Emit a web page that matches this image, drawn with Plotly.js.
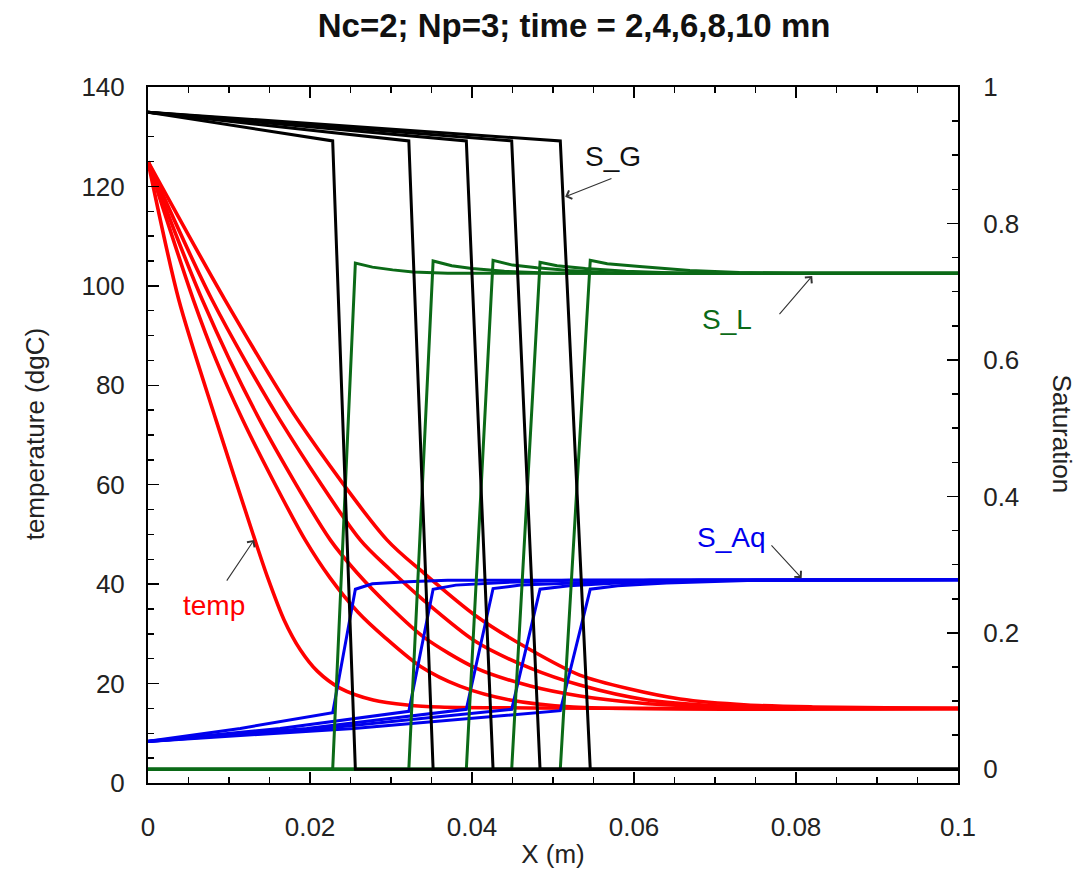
<!DOCTYPE html>
<html>
<head>
<meta charset="utf-8">
<script src="https://cdn.plot.ly/plotly-3.0.1.min.js"></script>
<style>
  html, body { margin: 0; padding: 0; background: #ffffff; }
  #chart { width: 1079px; height: 880px; }
</style>
</head>
<body>
<div id="chart"></div>
<script>
// Profiles along the column at t = 2, 4, 6, 8, 10 min
const times = [2, 4, 6, 8, 10];

// Temperature profiles (dgC)
const tempX = [
  [0, 0.0038, 0.0084, 0.0132, 0.0148, 0.0168, 0.0188, 0.0209, 0.0237, 0.0278, 0.0320, 0.0360, 0.1],
  [0, 0.0056, 0.0084, 0.0117, 0.0154, 0.0194, 0.0225, 0.0259, 0.0293, 0.0336, 0.0385, 0.0447, 0.0525, 0.1],
  [0, 0.0067, 0.0138, 0.0225, 0.0258, 0.0299, 0.0340, 0.0405, 0.0472, 0.0533, 0.0607, 0.0706, 0.1],
  [0, 0.0079, 0.0163, 0.0262, 0.0299, 0.0340, 0.0405, 0.0472, 0.0533, 0.0616, 0.0706, 0.0805, 0.1],
  [0, 0.0095, 0.0185, 0.0295, 0.0340, 0.0405, 0.0472, 0.0533, 0.0595, 0.0657, 0.0740, 0.0821, 0.1]
];
const tempT = [
  [125, 97.2, 73.0, 48.9, 41.2, 32.8, 26.8, 22.5, 19.1, 16.7, 15.7, 15.3, 15],
  [125, 97.2, 85.1, 73.0, 61.0, 48.9, 41.2, 34.4, 29.2, 23.5, 19.5, 16.7, 15.3, 15],
  [125, 97.2, 73.0, 48.9, 42.3, 35.4, 29.4, 23.1, 19.5, 17.5, 16.1, 15.3, 15],
  [125, 97.2, 73.0, 48.9, 42.9, 36.8, 28.4, 23.1, 19.7, 16.7, 15.5, 15.1, 15],
  [125, 97.2, 73.0, 48.9, 42.3, 33.6, 26.8, 21.7, 18.9, 16.9, 15.7, 15.3, 15]
];

// Gas saturation S_G
const gasX = [
  [0, 0.0228, 0.0256, 0.1],
  [0, 0.0322, 0.0352, 0.1],
  [0, 0.0393, 0.0426, 0.1],
  [0, 0.0449, 0.0484, 0.1],
  [0, 0.0509, 0.0546, 0.1]
];
const gasS = [
  [0.963, 0.921, 0, 0],
  [0.963, 0.921, 0, 0],
  [0.963, 0.921, 0, 0],
  [0.963, 0.921, 0, 0],
  [0.963, 0.921, 0, 0]
];

// Liquid (oil) saturation S_L
const liqX = [
  [0, 0.0228, 0.0256, 0.0277, 0.0302, 0.0327, 0.0370, 0.1],
  [0, 0.0322, 0.0352, 0.0375, 0.0400, 0.0440, 0.0500, 0.1],
  [0, 0.0393, 0.0426, 0.0450, 0.0480, 0.0520, 0.0580, 0.1],
  [0, 0.0449, 0.0484, 0.0505, 0.0540, 0.0590, 0.0660, 0.1],
  [0, 0.0509, 0.0546, 0.0567, 0.0607, 0.0669, 0.0730, 0.0800, 0.1]
];
const liqS = [
  [0, 0, 0.742, 0.736, 0.732, 0.729, 0.727, 0.727],
  [0, 0, 0.745, 0.738, 0.734, 0.730, 0.727, 0.727],
  [0, 0, 0.746, 0.739, 0.735, 0.731, 0.727, 0.727],
  [0, 0, 0.743, 0.738, 0.734, 0.730, 0.727, 0.727],
  [0, 0, 0.746, 0.741, 0.737, 0.731, 0.728, 0.727, 0.727]
];

// Aqueous saturation S_Aq
const aqX = [
  [0, 0.0114, 0.0228, 0.0256, 0.0277, 0.0320, 0.0370, 0.1],
  [0, 0.0163, 0.0322, 0.0352, 0.0380, 0.0440, 0.0520, 0.1],
  [0, 0.0196, 0.0393, 0.0426, 0.0460, 0.0520, 0.0620, 0.1],
  [0, 0.0225, 0.0449, 0.0484, 0.0520, 0.0580, 0.0680, 0.1],
  [0, 0.0254, 0.0509, 0.0546, 0.0580, 0.0640, 0.0750, 0.1]
];
const aqS = [
  [0.041, 0.060, 0.083, 0.264, 0.272, 0.275, 0.277, 0.278],
  [0.041, 0.060, 0.085, 0.264, 0.270, 0.274, 0.277, 0.278],
  [0.041, 0.060, 0.088, 0.265, 0.270, 0.273, 0.277, 0.278],
  [0.041, 0.061, 0.088, 0.264, 0.269, 0.273, 0.277, 0.278],
  [0.041, 0.060, 0.086, 0.264, 0.269, 0.273, 0.277, 0.278]
];

const FONT = 'Liberation Sans, Arial, Helvetica, sans-serif';
const RED = '#ff0000', BLUE = '#0000ee', GREEN = '#0b6a17', BLACK = '#000000';

const traces = [];
times.forEach((t, i) => {
  traces.push({ x: tempX[i], y: tempT[i], yaxis: 'y', mode: 'lines', name: 'temp ' + t,
    line: { color: RED, width: 3.6, shape: 'spline', smoothing: 0.8 } });
});
times.forEach((t, i) => {
  traces.push({ x: aqX[i], y: aqS[i], yaxis: 'y2', mode: 'lines', name: 'S_Aq ' + t,
    line: { color: BLUE, width: 3 } });
});
times.forEach((t, i) => {
  traces.push({ x: liqX[i], y: liqS[i], yaxis: 'y2', mode: 'lines', name: 'S_L ' + t,
    line: { color: GREEN, width: 3 } });
});
times.forEach((t, i) => {
  traces.push({ x: gasX[i], y: gasS[i], yaxis: 'y2', mode: 'lines', name: 'S_G ' + t,
    line: { color: BLACK, width: 3 } });
});

const tickFont = { family: FONT, size: 26, color: '#222' };
const axisCommon = {
  showgrid: false, zeroline: false, showline: true, linecolor: '#000', linewidth: 2,
  ticks: 'inside', ticklen: 11, tickwidth: 1.5, tickcolor: '#000',
  tickfont: tickFont
};

// Label + arrow pairs
function label(x, y, text, color) {
  return { x: x, y: y, xref: 'x', yref: 'y', text: text, showarrow: false,
    font: { family: FONT, size: 28, color: color } };
}
function arrow(hx, hy, tx, ty) {
  return { x: hx, y: hy, xref: 'x', yref: 'y', ax: tx, ay: ty, axref: 'x', ayref: 'y',
    text: '', showarrow: true, arrowhead: 4, arrowsize: 1.6, arrowwidth: 1.1, arrowcolor: '#333' };
}
function vtitle(x, text, angle) {
  return { xref: 'paper', yref: 'paper', x: x, y: 0.501, text: text, textangle: angle,
    showarrow: false, xanchor: 'center', yanchor: 'middle',
    font: { family: FONT, size: 26, color: '#222' } };
}

const layout = {
  width: 1079, height: 880,
  paper_bgcolor: '#ffffff', plot_bgcolor: '#ffffff',
  margin: { l: 148, r: 121, t: 87, b: 97 },
  showlegend: false,
  hovermode: false,
  title: { text: '<b>Nc=2; Np=3; time = 2,4,6,8,10 mn</b>',
    xref: 'paper', x: 0.526, xanchor: 'center',
    yref: 'container', y: 0.971, yanchor: 'middle',
    font: { family: FONT, size: 33, color: '#111' } },
  xaxis: Object.assign({}, axisCommon, {
    range: [0, 0.1], dtick: 0.02, tick0: 0, mirror: 'ticks',
    minor: { dtick: 0.005, ticks: 'inside', ticklen: 6, tickwidth: 1.5, tickcolor: '#000' },
    ticklabelstandoff: 20,
    title: { text: 'X (m)', font: { family: FONT, size: 26, color: '#222' }, standoff: 4 }
  }),
  yaxis: Object.assign({}, axisCommon, {
    range: [0, 140], dtick: 20, tick0: 0,
    minor: { dtick: 5, ticks: 'inside', ticklen: 6, tickwidth: 1.5, tickcolor: '#000' },
    ticklabelstandoff: 16
  }),
  yaxis2: Object.assign({}, axisCommon, {
    overlaying: 'y', side: 'right',
    range: [-0.02, 1.0], dtick: 0.2, tick0: 0,
    minor: { dtick: 0.05, ticks: 'inside', ticklen: 6, tickwidth: 1.5, tickcolor: '#000' },
    ticklabelstandoff: 18
  }),
  annotations: [
    label(0.0574, 126.0, 'S_G', '#111'),
    arrow(0.0515, 117.9, 0.0574, 121.7),
    label(0.0715, 93.2, 'S_L', GREEN),
    arrow(0.0820, 102.0, 0.0778, 94.0),
    label(0.0720, 49.3, 'S_Aq', BLUE),
    arrow(0.0807, 41.2, 0.0768, 48.1),
    label(0.0081, 35.8, 'temp', RED),
    arrow(0.0131, 48.9, 0.0096, 40.4),
    vtitle(-0.1395, 'temperature (dgC)', -90),
    vtitle(1.128, 'Saturation', 90)
  ]
};

Plotly.newPlot('chart', traces, layout, { staticPlot: true, displayModeBar: false });
</script>
</body>
</html>
